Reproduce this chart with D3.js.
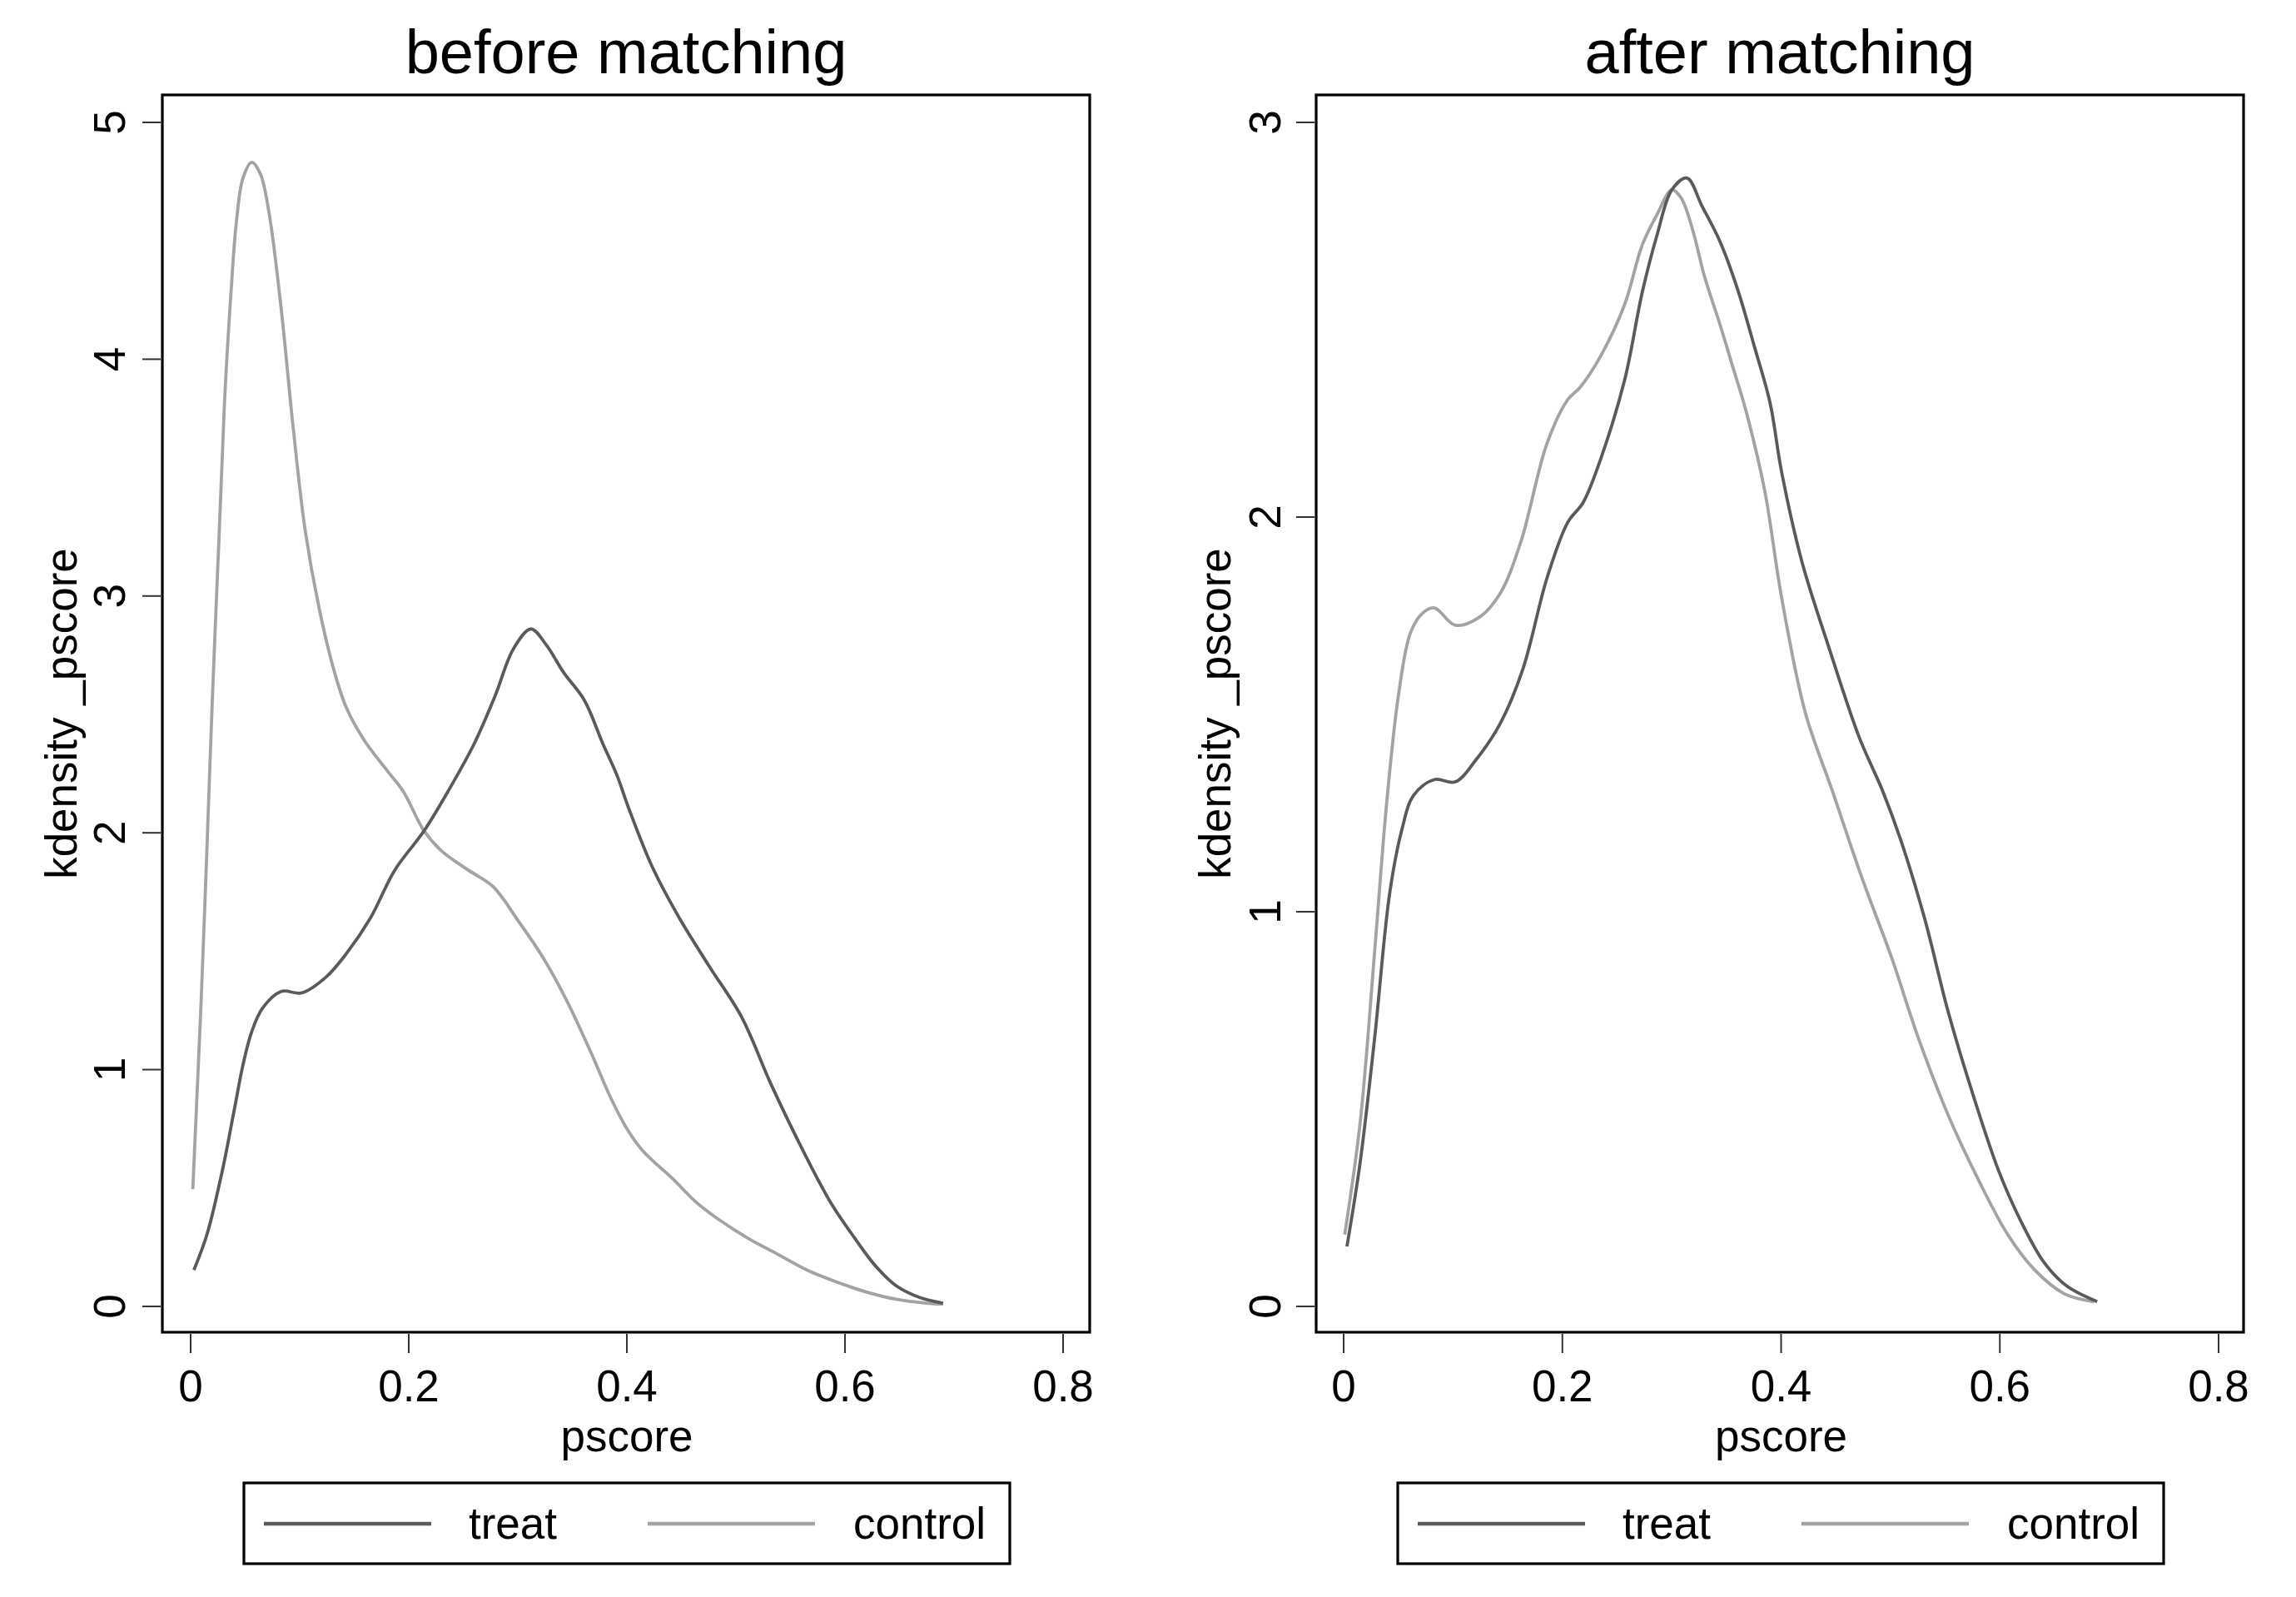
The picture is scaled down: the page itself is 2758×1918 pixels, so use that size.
<!DOCTYPE html>
<html>
<head>
<meta charset="utf-8">
<script src="https://cdn.jsdelivr.net/npm/d3@7"></script>
<style>
  html, body { margin: 0; padding: 0; background: #fff; }
  svg { display: block; }
  text { font-family: "Liberation Sans", Arial, Helvetica, sans-serif; fill: #000; }
</style>
</head>
<body>
<svg id="chart" width="2758" height="1918"></svg>
<script>
// ---------------- DATA ----------------
const panelTitles = ["before matching", "after matching"];
const xLabel = "pscore";
const yLabel = "kdensity _pscore";
const seriesNames = ["treat", "control"];
const xTickValues = [0, 0.2, 0.4, 0.6, 0.8];
const xTickLabels = ["0", "0.2", "0.4", "0.6", "0.8"];
const yTicksBefore = [0, 1, 2, 3, 4, 5];
const yTicksAfter = [0, 1, 2, 3];

// before matching: [pscore, density]
const beforeTreat = [
  [0.003,0.154],[0.015,0.304],[0.029,0.572],[0.040,0.830],[0.048,1.020],[0.056,1.160],
  [0.066,1.260],[0.083,1.330],[0.102,1.324],[0.124,1.390],[0.143,1.491],[0.165,1.641],[0.187,1.841],
  [0.214,2.008],[0.236,2.175],[0.260,2.376],[0.279,2.576],[0.296,2.777],[0.312,2.861],
  [0.326,2.794],[0.342,2.677],[0.361,2.560],[0.378,2.376],[0.391,2.242],[0.402,2.100],
  [0.423,1.859],[0.448,1.641],[0.475,1.440],[0.505,1.224],[0.532,0.940],[0.560,0.672],
  [0.587,0.438],[0.609,0.288],[0.628,0.171],[0.647,0.087],[0.669,0.037],[0.690,0.014]
];
const beforeControl = [
  [0.002,0.495],[0.005,0.805],[0.0095,1.273],[0.015,1.942],[0.020,2.576],[0.026,3.245],
  [0.031,3.813],[0.037,4.281],[0.042,4.582],[0.048,4.765],[0.056,4.832],[0.064,4.782],
  [0.072,4.615],[0.083,4.214],[0.094,3.712],[0.105,3.278],[0.118,2.944],[0.132,2.677],
  [0.143,2.526],[0.159,2.392],[0.181,2.258],[0.195,2.175],[0.214,2.008],[0.230,1.924],
  [0.255,1.841],[0.277,1.774],[0.301,1.624],[0.323,1.474],[0.345,1.290],[0.367,1.073],
  [0.386,0.873],[0.4015,0.739],[0.415,0.655],[0.442,0.539],[0.464,0.438],[0.483,0.371],
  [0.511,0.288],[0.538,0.221],[0.565,0.154],[0.592,0.104],[0.620,0.060],[0.647,0.030],
  [0.674,0.014],[0.690,0.010]
];
// after matching
const afterTreat = [
  [0.003,0.152],[0.015,0.363],[0.0285,0.684],[0.042,1.045],[0.053,1.205],[0.064,1.295],
  [0.083,1.335],[0.102,1.329],[0.121,1.385],[0.143,1.476],[0.164,1.616],[0.186,1.846],
  [0.205,1.987],[0.219,2.037],[0.235,2.147],[0.257,2.348],[0.273,2.569],[0.287,2.719],
  [0.300,2.829],[0.314,2.859],[0.3275,2.789],[0.344,2.699],[0.360,2.579],[0.376,2.428],
  [0.390,2.288],[0.4004,2.115],[0.419,1.887],[0.444,1.667],[0.471,1.445],[0.493,1.305],
  [0.509,1.185],[0.531,0.985],[0.553,0.744],[0.577,0.523],[0.599,0.343],[0.618,0.223],
  [0.640,0.113],[0.661,0.052],[0.689,0.012]
];
const afterControl = [
  [0.001,0.182],[0.015,0.463],[0.0285,0.904],[0.039,1.265],[0.050,1.546],[0.061,1.706],
  [0.072,1.756],[0.083,1.770],[0.102,1.726],[0.124,1.746],[0.143,1.806],[0.162,1.937],
  [0.186,2.187],[0.205,2.298],[0.216,2.328],[0.235,2.408],[0.257,2.539],[0.273,2.689],
  [0.287,2.769],[0.300,2.829],[0.3085,2.809],[0.319,2.729],[0.330,2.609],[0.344,2.489],
  [0.355,2.388],[0.368,2.268],[0.385,2.067],[0.4004,1.797],[0.422,1.506],[0.447,1.305],
  [0.474,1.085],[0.501,0.884],[0.525,0.684],[0.553,0.483],[0.580,0.323],[0.607,0.183],
  [0.632,0.092],[0.659,0.032],[0.686,0.012]
];

// ---------------- LAYOUT ----------------
const colors = { treat: "#5a5a5a", control: "#a3a3a3" };
const panels = [
  { title: panelTitles[0], treat: beforeTreat, control: beforeControl, yTicks: yTicksBefore,
    frame: { x0: 195, x1: 1309, y0: 114, y1: 1600 }, xr: [229, 1277], yr: [1569, 147], yDom: [0, 5],
    yLabelX: 92, yTickX: 150, legend: { x0: 293, x1: 1213 } },
  { title: panelTitles[1], treat: afterTreat, control: afterControl, yTicks: yTicksAfter,
    frame: { x0: 1581, x1: 2695, y0: 114, y1: 1600 }, xr: [1614, 2665], yr: [1569, 147], yDom: [0, 3],
    yLabelX: 1478, yTickX: 1538, legend: { x0: 1679, x1: 2599 } }
];

const svg = d3.select("#chart");
svg.append("rect").attr("width", 2758).attr("height", 1918).attr("fill", "#fff");

panels.forEach(p => {
  const g = svg.append("g");
  const x = d3.scaleLinear().domain([0, 0.8]).range(p.xr);
  const y = d3.scaleLinear().domain(p.yDom).range(p.yr);
  const f = p.frame;

  // title
  g.append("text").attr("x", (f.x0 + f.x1) / 2).attr("y", 88)
    .attr("text-anchor", "middle").attr("font-size", 74).text(p.title);

  // curves
  const line = d3.line().x(d => x(d[0])).y(d => y(d[1])).curve(d3.curveCatmullRom.alpha(0.5));
  g.append("path").datum(p.control).attr("d", line).attr("fill", "none")
    .attr("stroke", colors.control).attr("stroke-width", 3.8).attr("stroke-linejoin", "round");
  g.append("path").datum(p.treat).attr("d", line).attr("fill", "none")
    .attr("stroke", colors.treat).attr("stroke-width", 3.8).attr("stroke-linejoin", "round");

  // frame
  g.append("rect").attr("x", f.x0).attr("y", f.y0).attr("width", f.x1 - f.x0).attr("height", f.y1 - f.y0)
    .attr("fill", "none").attr("stroke", "#000").attr("stroke-width", 3.2);

  // x axis ticks (below frame)
  const xa = g.append("g");
  xTickValues.forEach((v, i) => {
    xa.append("line").attr("x1", x(v)).attr("x2", x(v)).attr("y1", f.y1 + 2).attr("y2", f.y1 + 25)
      .attr("stroke", "#333").attr("stroke-width", 2);
    xa.append("text").attr("x", x(v)).attr("y", 1683).attr("text-anchor", "middle")
      .attr("font-size", 53).text(xTickLabels[i]);
  });
  g.append("text").attr("x", x(0.4)).attr("y", 1743).attr("text-anchor", "middle")
    .attr("font-size", 53).text(xLabel);

  // y axis ticks (left of frame)
  const ya = g.append("g");
  p.yTicks.forEach(v => {
    ya.append("line").attr("x1", f.x0 - 24).attr("x2", f.x0 - 2).attr("y1", y(v)).attr("y2", y(v))
      .attr("stroke", "#333").attr("stroke-width", 2);
    ya.append("text").attr("transform", `translate(${p.yTickX},${y(v)}) rotate(-90)`)
      .attr("text-anchor", "middle").attr("font-size", 53).text(String(v));
  });
  g.append("text").attr("transform", `translate(${p.yLabelX},${(f.y0 + f.y1) / 2}) rotate(-90)`)
    .attr("text-anchor", "middle").attr("font-size", 53).text(yLabel);

  // legend
  const L = p.legend;
  const lg = g.append("g");
  lg.append("rect").attr("x", L.x0).attr("y", 1781).attr("width", L.x1 - L.x0).attr("height", 97)
    .attr("fill", "#fff").attr("stroke", "#000").attr("stroke-width", 3.2);
  const items = [
    { name: seriesNames[0], color: colors.treat, lx: 24, tx: 270 },
    { name: seriesNames[1], color: colors.control, lx: 485, tx: 732 }
  ];
  items.forEach(it => {
    lg.append("line").attr("x1", L.x0 + it.lx).attr("x2", L.x0 + it.lx + 201)
      .attr("y1", 1830).attr("y2", 1830).attr("stroke", it.color).attr("stroke-width", 4.5);
    lg.append("text").attr("x", L.x0 + it.tx).attr("y", 1848).attr("font-size", 53).text(it.name);
  });
});
</script>
</body>
</html>
